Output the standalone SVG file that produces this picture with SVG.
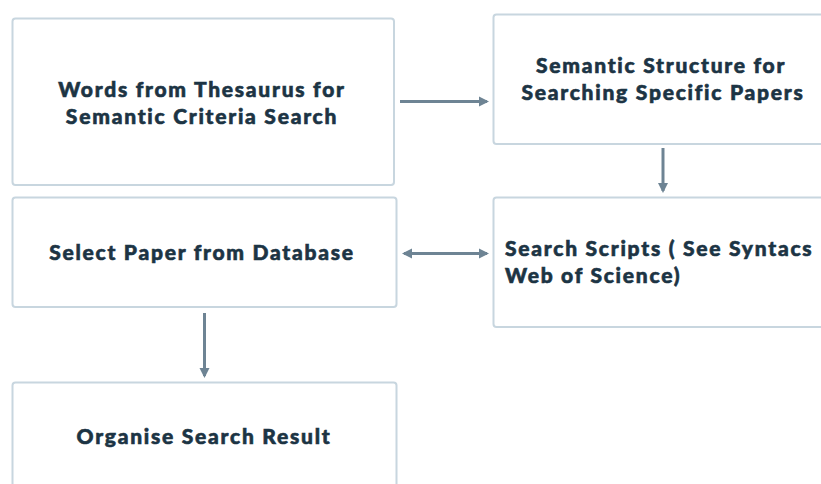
<svg xmlns="http://www.w3.org/2000/svg" width="821" height="484" viewBox="0 0 821 484">
<style>
.box{fill:#ffffff;stroke:#c8d6df;stroke-width:2}
.t{font-family:Lato,"Open Sans","Liberation Sans",sans-serif;font-weight:900;font-size:21px;fill:#1c3444;stroke:#1c3444;stroke-width:0.6px;letter-spacing:1.75px}
.c{stroke:#6e8494;stroke-width:3;fill:none}
</style>
<defs>
<marker id="ah" viewBox="0 0 10 10" refX="8" refY="5" markerWidth="3.4" markerHeight="3.4" orient="auto-start-reverse" markerUnits="strokeWidth">
<path d="M0,0 L10,5 L0,10 Z" fill="#6e8494"/>
</marker>
</defs>
<rect width="821" height="484" fill="#ffffff"/>
<g id="n1"><rect class="box" x="12.5" y="18.5" width="381.5" height="166.5" rx="3"/>
<text class="t" x="202" y="97" text-anchor="middle">Words from Thesaurus for</text>
<text class="t" x="202" y="124" text-anchor="middle">Semantic Criteria Search</text></g>
<g id="n2"><rect class="box" x="493.5" y="14.5" width="340" height="129.5" rx="3"/>
<text class="t" x="661" y="73" text-anchor="middle">Semantic Structure for</text>
<text class="t" x="663" y="100" text-anchor="middle">Searching Specific Papers</text></g>
<g id="n3"><rect class="box" x="12.5" y="197.5" width="384" height="109.5" rx="3"/>
<text class="t" x="202" y="260" text-anchor="middle">Select Paper from Database</text></g>
<g id="n4"><rect class="box" x="493.5" y="197.5" width="340" height="129.5" rx="3"/>
<text class="t" x="505" y="256">Search Scripts ( See Syntacs</text>
<text class="t" x="505" y="283">Web of Science)</text></g>
<g id="n5"><rect class="box" x="12.5" y="382.5" width="384" height="120" rx="3"/>
<text class="t" x="204" y="444" text-anchor="middle">Organise Search Result</text></g>
<g id="connectors">
<line class="c" x1="400" y1="101.5" x2="487" y2="101.5" marker-end="url(#ah)"/>
<line class="c" x1="663" y1="148" x2="663" y2="191" marker-end="url(#ah)"/>
<line class="c" x1="404" y1="253.5" x2="487" y2="253.5" marker-start="url(#ah)" marker-end="url(#ah)"/>
<line class="c" x1="204.5" y1="313" x2="204.5" y2="376" marker-end="url(#ah)"/>
</g>
</svg>
